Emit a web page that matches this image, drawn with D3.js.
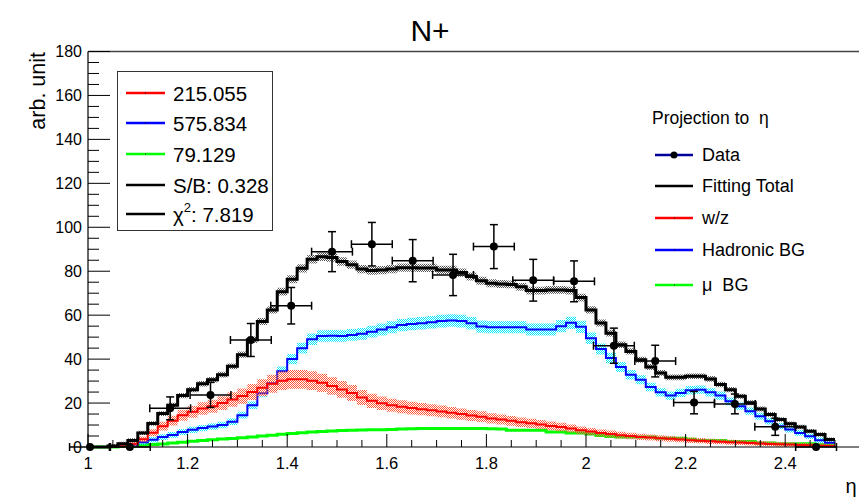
<!DOCTYPE html>
<html><head><meta charset="utf-8">
<script src="https://cdn.jsdelivr.net/npm/d3@7/dist/d3.min.js"></script>
<style>
body{margin:0;background:#fff;}
svg{display:block;font-family:"Liberation Sans",Arial,Helvetica,sans-serif;}
</style>
</head><body>
<svg id="chart" width="859" height="498"></svg>
<script>
// ---------------- data ----------------
const binLow = 1.0;          // first bin low edge (eta)
const binWidth = 0.02;       // histogram bin width (eta)

const totalFit = [0,0,0.5,1.5,3.0,6.4,10.7,15.2,19.0,23.4,
  26.1,28.8,30.6,32.9,36.7,42.0,48.8,57.1,62.4,70.7,
  76.3,81.3,85.4,86.6,86.3,84.4,83.0,81.0,80.3,80.5,
  81.0,81.6,81.6,81.5,81.5,80.6,80.6,79.4,77.6,75.7,
  74.5,74.2,74.0,72.9,71.2,71.2,71.5,71.5,71.2,68.0,
  62.4,56.4,51.8,46.5,43.5,39.7,36.4,33.7,31.7,31.7,
  32.2,32.2,31.0,28.4,26.1,23.1,20.1,17.3,14.8,12.5,
  10.6,9.1,7.2,5.7,3.4];
const wzFit = [0,0,0,0.5,1.5,3.5,6.5,9.5,12.0,14.5,
  16.0,17.5,18.6,20.0,21.6,23.2,25.0,27.0,28.8,30.2,
  30.8,30.8,30.2,29.2,27.8,26.2,24.6,22.5,21.0,19.9,
  19.0,18.3,17.7,17.2,16.7,16.2,15.6,15.0,14.3,13.8,
  13.0,12.5,11.9,11.3,10.8,10.2,9.6,9.1,8.4,7.6,
  7.0,6.4,5.9,5.4,5.0,4.6,4.3,4.0,3.7,3.4,
  3.1,2.9,2.6,2.4,2.2,2.0,1.8,1.6,1.4,1.2,
  1.1,0.9,0.8,0.6,0.5];
const hadronicBG = [0,0,0,0.4,1.0,2.2,3.3,4.5,5.5,6.8,
  7.8,8.6,9.3,10.0,11.5,14.5,19.0,24.5,29.0,34.5,
  40.0,45.0,49.0,50.5,50.6,50.5,51.0,51.5,52.5,53.5,
  54.5,55.5,56.0,56.3,56.8,57.3,57.6,57.3,56.3,54.8,
  54.5,54.5,54.5,54.5,53.5,53.5,53.5,55.0,56.5,54.7,
  49.5,44.6,40.5,36.4,32.9,30.6,27.3,24.9,23.4,24.6,
  25.8,26.1,24.9,23.4,20.8,18.6,16.3,14.0,11.7,9.5,
  8.0,6.4,4.9,3.1,1.9];
const muonBG = [0,0,0,0.2,0.5,0.8,1.1,1.4,1.8,2.2,
  2.6,3.0,3.3,3.6,3.9,4.2,4.6,5.0,5.4,5.8,
  6.2,6.5,6.8,7.0,7.3,7.5,7.6,7.7,7.8,7.9,
  8.0,8.2,8.3,8.4,8.4,8.4,8.4,8.4,8.4,8.4,
  8.3,8.2,7.6,7.6,7.6,7.6,6.8,6.8,6.4,6.4,
  5.9,5.2,4.8,4.6,4.5,4.5,4.5,4.0,4.0,4.0,
  3.5,3.0,3.0,3.0,2.5,2.5,2.5,1.8,1.8,1.5,
  1.5,1.5,1.5,1.0,1.0];

// fractional fit uncertainty shown as bands
const wzBandFrac = 0.11;
const hadronicBandFrac = 0.03;
const totalBandFrac = 0.012;

const dataEta = [1.004,1.084,1.165,1.246,1.327,1.408,1.490,1.570,1.652,1.733,
  1.815,1.894,1.976,2.056,2.139,2.217,2.299,2.380,2.462];
const dataVal = [0,0,17.6,23.7,48.7,64.3,88.9,92.3,84.8,78.3,
  91.2,75.9,75.4,46.1,39.1,20.2,19.6,9.2,0];
const dataErr = [0,0,5.2,5.7,7.5,8.3,9.1,9.9,9.6,9.4,
  10.0,9.5,9.3,8.0,7.2,5.1,4.5,3.9,0];
const dataEtaErr = 0.041;

const xTickLabels = [1,1.2,1.4,1.6,1.8,2,2.2,2.4];
const yTickLabels = [0,20,40,60,80,100,120,140,160,180];

const fitLegend = [
  {label:"215.055", color:"#ff0000", dot:true},
  {label:"575.834", color:"#0000ff", dot:true},
  {label:"79.129", color:"#00ff00", dot:true},
  {label:"S/B: 0.328", color:"#000000", dot:false},
  {label:"\u03c7", sup:"2", rest:": 7.819", color:"#000000", dot:false}
];
const projLegend = [
  {label:"Data", color:"#000099", marker:true},
  {label:"Fitting Total", color:"#000000"},
  {label:"w/z", color:"#ff0000", dot:true},
  {label:"Hadronic BG", color:"#0000ff", dot:true},
  {label:"\u03bc  BG", color:"#00ff00", dot:true}
];

// ---------------- layout ----------------
const svg = d3.select("#chart");
const X0 = 88, Y0 = 447, YTOP = 51.5;
const x = d3.scaleLinear().domain([1, 2.6]).range([X0, X0 + 1.6 * 498]);
const y = d3.scaleLinear().domain([0, 180]).range([Y0, YTOP]);

// patterns for bands
const defs = svg.append("defs");
function checker(id, color) {
  const p = defs.append("pattern").attr("id", id).attr("patternUnits", "userSpaceOnUse")
    .attr("width", 2).attr("height", 2);
  p.append("rect").attr("x", 0).attr("y", 0).attr("width", 1).attr("height", 1).attr("fill", color);
  p.append("rect").attr("x", 1).attr("y", 1).attr("width", 1).attr("height", 1).attr("fill", color);
}
checker("patRed", "#ff5a3c");
checker("patCyan", "#00e8ff");
checker("patGray", "#555555");

const clip = defs.append("clipPath").attr("id", "plotClip");
clip.append("rect").attr("x", X0).attr("y", YTOP).attr("width", 859 - X0).attr("height", Y0 - YTOP + 3);

// ---------------- histograms ----------------
function stepPts(vals) {
  const pts = vals.map((v, k) => [binLow + k * binWidth, v]);
  pts.push([binLow + vals.length * binWidth, vals[vals.length - 1]]);
  return pts;
}
const line = d3.line().x(d => x(d[0])).y(d => y(d[1])).curve(d3.curveStepAfter);
function band(vals, frac, pad) {
  return d3.area().x(d => x(d[0]))
    .y0(d => Math.min(Y0, y(Math.max(0, d[1] * (1 - frac))) + pad))
    .y1(d => y(d[1] * (1 + frac)) - pad).curve(d3.curveStepAfter)
    .defined(d => d[1] > 0.05)(stepPts(vals));
}

const g = svg.append("g").attr("clip-path", "url(#plotClip)");
g.append("path").attr("d", line(stepPts(muonBG))).attr("fill", "none").attr("stroke", "#00ff00").attr("stroke-width", 3);
g.append("path").attr("d", band(hadronicBG, hadronicBandFrac, 2.5)).attr("fill", "url(#patCyan)");
g.append("path").attr("d", line(stepPts(hadronicBG))).attr("fill", "none").attr("stroke", "#0000ff").attr("stroke-width", 2);
g.append("path").attr("d", band(wzFit, wzBandFrac, 2)).attr("fill", "url(#patRed)");
g.append("path").attr("d", line(stepPts(wzFit))).attr("fill", "none").attr("stroke", "#ff0000").attr("stroke-width", 2);
g.append("path").attr("d", band(totalFit, totalBandFrac, 2)).attr("fill", "url(#patGray)");
g.append("path").attr("d", line(stepPts(totalFit))).attr("fill", "none").attr("stroke", "#000000").attr("stroke-width", 3);

// ---------------- frame & axes ----------------
const ax = svg.append("g").attr("stroke", "#000").attr("fill", "none");
ax.append("line").attr("x1", X0).attr("x2", 859).attr("y1", YTOP).attr("y2", YTOP).attr("stroke", "#444").attr("stroke-width", 1.5);
ax.append("line").attr("x1", X0).attr("x2", X0).attr("y1", YTOP).attr("y2", Y0).attr("stroke-width", 1.2);
ax.append("line").attr("x1", X0).attr("x2", 859).attr("y1", Y0).attr("y2", Y0).attr("stroke-width", 1.2);

// y ticks
const yMinor = d3.range(0, 180.001, 5);
yMinor.forEach(v => {
  const major = Math.abs(v % 20) < 1e-6;
  ax.append("line").attr("x1", X0).attr("x2", X0 + (major ? 22 : 11))
    .attr("y1", y(v)).attr("y2", y(v)).attr("stroke-width", 1);
});
svg.append("g").selectAll("text").data(yTickLabels).join("text")
  .attr("x", X0 - 6).attr("y", d => y(d)).attr("text-anchor", "end")
  .attr("dominant-baseline", "central").attr("font-size", 16).attr("fill", "#000")
  .text(d => d);

// x ticks
const xMinor = d3.range(0, 32).map(i => 1 + i * 0.05).filter(v => x(v) < 859);
xMinor.forEach((v, i) => {
  const major = i % 4 === 0;
  ax.append("line").attr("x1", x(v)).attr("x2", x(v))
    .attr("y1", Y0).attr("y2", Y0 - (major ? 13 : 7)).attr("stroke-width", 1);
});
svg.append("g").selectAll("text").data(xTickLabels).join("text")
  .attr("x", d => x(d)).attr("y", Y0 + 16).attr("text-anchor", "middle")
  .attr("dominant-baseline", "central").attr("font-size", 16.5).attr("fill", "#000")
  .text(d => d);

// titles
svg.append("text").attr("x", 430).attr("y", 30).attr("text-anchor", "middle")
  .attr("dominant-baseline", "central").attr("font-size", 30).text("N+");
svg.append("text").attr("transform", "translate(38,52) rotate(-90)").attr("text-anchor", "end")
  .attr("dominant-baseline", "central").attr("font-size", 21.5).text("arb. unit");
svg.append("text").attr("x", 851).attr("y", 486).attr("text-anchor", "middle")
  .attr("dominant-baseline", "central").attr("font-size", 20).text("\u03b7");

// ---------------- data points ----------------
const dp = svg.append("g").attr("stroke", "#000").attr("stroke-width", 1.5);
dataEta.forEach((e, i) => {
  const cx = x(e), cy = y(dataVal[i]);
  const xl = x(e - dataEtaErr), xr = x(e + dataEtaErr);
  dp.append("line").attr("x1", xl).attr("x2", xr).attr("y1", cy).attr("y2", cy);
  dp.append("line").attr("x1", xl).attr("x2", xl).attr("y1", cy - 4).attr("y2", cy + 4);
  dp.append("line").attr("x1", xr).attr("x2", xr).attr("y1", cy - 4).attr("y2", cy + 4);
  if (dataErr[i] > 0) {
    const yt = y(dataVal[i] + dataErr[i]), yb = y(dataVal[i] - dataErr[i]);
    dp.append("line").attr("x1", cx).attr("x2", cx).attr("y1", yt).attr("y2", yb);
    dp.append("line").attr("x1", cx - 4).attr("x2", cx + 4).attr("y1", yt).attr("y2", yt);
    dp.append("line").attr("x1", cx - 4).attr("x2", cx + 4).attr("y1", yb).attr("y2", yb);
  }
  dp.append("circle").attr("cx", cx).attr("cy", cy).attr("r", 4).attr("fill", "#000").attr("stroke", "none");
});

// ---------------- legends ----------------
const L1 = svg.append("g");
L1.append("rect").attr("x", 117.5).attr("y", 71.5).attr("width", 155).attr("height", 159)
  .attr("fill", "#fff").attr("stroke", "#333").attr("stroke-width", 1);
const l1Rows = [93, 123, 154, 185, 214];
fitLegend.forEach((d, i) => {
  const yy = l1Rows[i];
  L1.append("line").attr("x1", 126).attr("x2", 165).attr("y1", yy).attr("y2", yy)
    .attr("stroke", d.color).attr("stroke-width", 2.5);
  if (d.dot) L1.append("rect").attr("x", 145).attr("y", yy - 0.5).attr("width", 1).attr("height", 1).attr("fill", "#000");
  const t = L1.append("text").attr("x", 173).attr("y", yy).attr("dominant-baseline", "central").attr("font-size", 20.5);
  if (d.sup) {
    t.append("tspan").text(d.label);
    t.append("tspan").attr("dy", -7).attr("font-size", 13).text(d.sup);
    t.append("tspan").attr("dy", 7).text(d.rest);
  } else t.text(d.label);
});

const L2 = svg.append("g");
L2.append("text").attr("x", 652).attr("y", 118).attr("dominant-baseline", "central")
  .attr("font-size", 17.5).attr("xml:space", "preserve").text("Projection to  \u03b7");
const l2Rows = [155, 186, 218, 250, 285];
projLegend.forEach((d, i) => {
  const yy = l2Rows[i];
  L2.append("line").attr("x1", 655).attr("x2", 693).attr("y1", yy).attr("y2", yy)
    .attr("stroke", d.color).attr("stroke-width", 2.5);
  if (d.marker) L2.append("circle").attr("cx", 674).attr("cy", yy).attr("r", 3.5).attr("fill", "#000");
  if (d.dot) L2.append("rect").attr("x", 674).attr("y", yy - 0.5).attr("width", 1).attr("height", 1).attr("fill", "#000");
  L2.append("text").attr("x", 702).attr("y", yy).attr("dominant-baseline", "central")
    .attr("font-size", 18).attr("xml:space", "preserve").text(d.label);
});
</script>
</body></html>
